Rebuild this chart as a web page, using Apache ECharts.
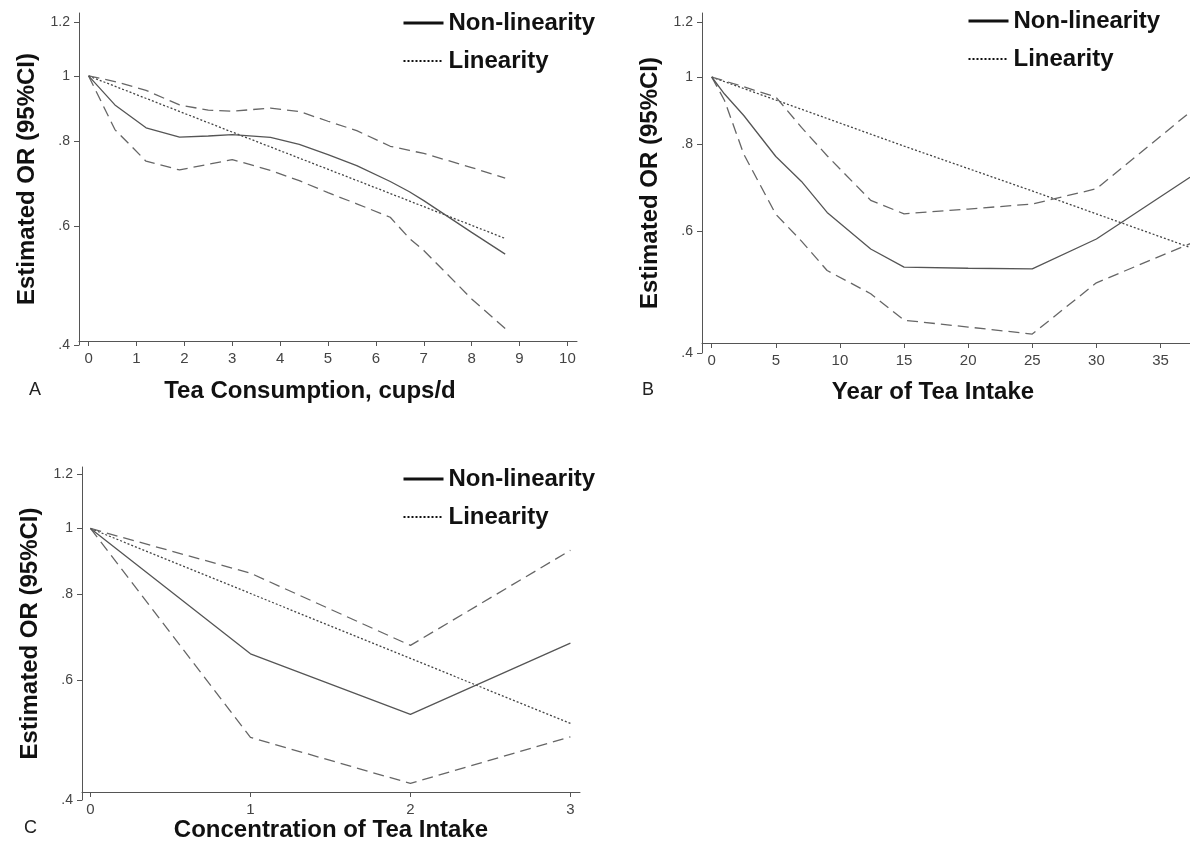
<!DOCTYPE html>
<html><head><meta charset="utf-8">
<script src="https://cdn.jsdelivr.net/npm/echarts@6/dist/echarts.min.js"></script>
<style>html,body{margin:0;padding:0;background:#fff}#c{width:1190px;height:843px}</style>
</head><body><div id="c"></div>
<script>
// ---- tick labels ----
const yTicks = [0.4, 0.6, 0.8, 1, 1.2];
const aTicks = [0, 1, 2, 3, 4, 5, 6, 7, 8, 9, 10];
const bTicks = [0, 5, 10, 15, 20, 25, 30, 35];
const cTicks = [0, 1, 2, 3];

// ---- Panel A: tea consumption, cups/d ----
const aX   = [0, 0.55, 1.2, 1.9, 2.5, 3.0, 3.8, 4.4, 5.0, 5.6, 6.3, 6.7, 7.0, 8.0, 8.7];
const aUp  = [1, 0.981, 0.952, 0.906, 0.890, 0.887, 0.896, 0.886, 0.857, 0.830, 0.787, 0.776, 0.768, 0.732, 0.706];
const aFit = [1, 0.906, 0.838, 0.812, 0.815, 0.819, 0.811, 0.792, 0.765, 0.737, 0.698, 0.674, 0.654, 0.587, 0.545];
const aLow = [1, 0.833, 0.748, 0.726, 0.740, 0.752, 0.725, 0.700, 0.672, 0.647, 0.618, 0.575, 0.552, 0.468, 0.423];
const aLinX = [0, 3, 6, 8.7];
const aLin  = [1, 0.826, 0.683, 0.575];

// ---- Panel B: year of tea intake ----
const bX   = [0, 1, 2.5, 5, 7, 9, 12.4, 15, 20, 25, 30, 37.3];
const bUp  = [1, 0.987, 0.968, 0.936, 0.846, 0.770, 0.664, 0.635, 0.645, 0.656, 0.690, 0.890];
const bFit = [1, 0.945, 0.880, 0.768, 0.707, 0.638, 0.565, 0.532, 0.530, 0.529, 0.584, 0.717];
const bLow = [1, 0.925, 0.774, 0.634, 0.580, 0.526, 0.487, 0.446, 0.436, 0.426, 0.505, 0.575];
const bLinX = [0, 15, 25, 37.3];
const bLin  = [1, 0.795, 0.685, 0.568];

// ---- Panel C: concentration of tea intake ----
const cX   = [0, 1, 2, 3];
const cUp  = [1, 0.860, 0.674, 0.929];
const cFit = [1, 0.655, 0.534, 0.679];
const cLow = [1, 0.494, 0.423, 0.495];
const cLin = [1, 0.803, 0.645, 0.518];

const FONT = "'Liberation Sans', Arial, Helvetica, sans-serif";
const pts = (xs, vs) => xs.map((x, i) => [x, Math.log(vs[i])]);
const fmtY = v => { const r = Math.round(Math.exp(v) * 10) / 10; return r < 1 ? String(r).replace(/^0/, '') : String(r); };

function yAx(gi, topV) {
  const cv = yTicks.map(Math.log);
  return {
    gridIndex: gi, type: 'value', min: Math.log(0.4), max: Math.log(topV),
    axisLine: { show: true, onZero: false, lineStyle: { color: '#555', width: 1 } },
    axisTick: { show: true, length: 5, customValues: cv, lineStyle: { color: '#555' } },
    axisLabel: { customValues: cv, formatter: fmtY, fontSize: 14, color: '#444', margin: 9, fontFamily: FONT },
    splitLine: { show: false },
    name: 'Estimated OR (95%CI)', nameLocation: 'middle', nameGap: 40,
    nameTextStyle: { fontSize: 24, fontWeight: 'bold', color: '#111', fontFamily: FONT }
  };
}
function xAx(gi, min, max, ticks, offset, name, gap, padR) {
  return {
    gridIndex: gi, type: 'value', min: min, max: max, offset: offset,
    axisLine: { show: true, onZero: false, lineStyle: { color: '#555', width: 1 } },
    axisTick: { show: true, length: 5, customValues: ticks, lineStyle: { color: '#555' } },
    axisLabel: { customValues: ticks, fontSize: 15, color: '#444', margin: 10, fontFamily: FONT },
    splitLine: { show: false },
    name: name, nameLocation: 'middle', nameGap: gap,
    nameTextStyle: { fontSize: 24, fontWeight: 'bold', color: '#111', fontFamily: FONT, padding: [0, padR, 0, 0] }
  };
}
function ser(gi, name, data, kind) {
  const st = {
    fit: { color: '#555', width: 1.3, type: 'solid' },
    ci:  { color: '#666', width: 1.3, type: [11, 6] },
    lin: { color: '#444', width: 1.3, type: [2, 2] }
  }[kind];
  return { type: 'line', name: name, xAxisIndex: gi, yAxisIndex: gi, data: data,
    symbol: 'none', lineStyle: st, itemStyle: { color: st.color }, silent: true, animation: false, z: kind === 'fit' ? 3 : 2 };
}
function leg(left, top) {
  return {
    left: left, top: top, orient: 'vertical', padding: 0, itemWidth: 40, itemHeight: 14, itemGap: 12,
    selectedMode: false,
    textStyle: { fontSize: 24, fontWeight: 'bold', color: '#111', fontFamily: FONT, lineHeight: 26 },
    data: [
      { name: 'Non-linearity', lineStyle: { color: '#111', width: 3, type: 'solid' }, itemStyle: { opacity: 0 } },
      { name: 'Linearity', lineStyle: { color: '#111', width: 2, type: [2, 2] }, itemStyle: { opacity: 0 } }
    ]
  };
}

const option = {
  backgroundColor: '#fff',
  animation: false,
  title: [
    { text: 'A', left: 29, top: 381, padding: 0, textStyle: { fontSize: 18, fontWeight: 'normal', color: '#222', fontFamily: FONT } },
    { text: 'B', left: 642, top: 381, padding: 0, textStyle: { fontSize: 18, fontWeight: 'normal', color: '#222', fontFamily: FONT } },
    { text: 'C', left: 24, top: 819, padding: 0, textStyle: { fontSize: 18, fontWeight: 'normal', color: '#222', fontFamily: FONT } }
  ],
  legend: [leg(402, 10), leg(967, 8), leg(402, 466)],
  grid: [
    { left: 79, top: 13, width: 498, height: 332 },
    { left: 702, top: 13, width: 488, height: 340 },
    { left: 82, top: 467, width: 498, height: 336 }
  ],
  xAxis: [
    xAx(0, -0.2, 10.2, aTicks, -4, 'Tea Consumption, cups/d', 38, 36),
    xAx(1, -0.757, 37.3, bTicks, -10, 'Year of Tea Intake', 37, 26),
    xAx(2, -0.053, 3.06, cTicks, -8, 'Concentration of Tea Intake', 26, 0)
  ],
  yAxis: [yAx(0, 1.239), yAx(1, 1.2368), yAx(2, 1.2305)],
  series: [
    ser(0, 'Non-linearity', pts(aX, aFit), 'fit'),
    ser(0, 'Linearity', pts(aLinX, aLin), 'lin'),
    ser(0, 'CI upper', pts(aX, aUp), 'ci'),
    ser(0, 'CI lower', pts(aX, aLow), 'ci'),
    ser(1, 'Non-linearity', pts(bX, bFit), 'fit'),
    ser(1, 'Linearity', pts(bLinX, bLin), 'lin'),
    ser(1, 'CI upper', pts(bX, bUp), 'ci'),
    ser(1, 'CI lower', pts(bX, bLow), 'ci'),
    ser(2, 'Non-linearity', pts(cX, cFit), 'fit'),
    ser(2, 'Linearity', pts(cX, cLin), 'lin'),
    ser(2, 'CI upper', pts(cX, cUp), 'ci'),
    ser(2, 'CI lower', pts(cX, cLow), 'ci')
  ]
};
const chart = echarts.init(document.getElementById('c'), null, { renderer: 'canvas' });
chart.setOption(option);
</script></body></html>
